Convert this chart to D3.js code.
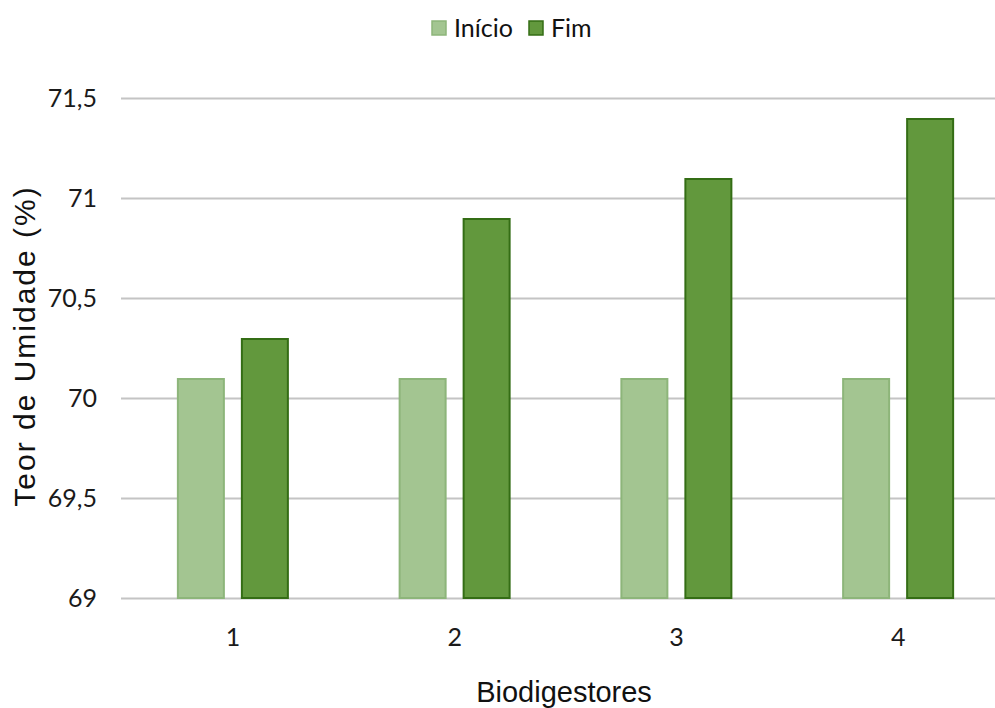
<!DOCTYPE html>
<html>
<head>
<meta charset="utf-8">
<script src="https://cdn.jsdelivr.net/npm/d3@7"></script>
<style>
  html, body { margin: 0; padding: 0; background: #fff; }
  svg { display: block; }
</style>
</head>
<body>
<svg id="chart" width="995" height="708"></svg>
<script>
// Moisture content per biodigester, at the start and at the end of the run
const categories = ["1", "2", "3", "4"];
const seriesNames = ["Início", "Fim"];
const inicioValues = [70.1, 70.1, 70.1, 70.1];
const fimValues = [70.3, 70.9, 71.1, 71.4];
const yTicks = [69, 69.5, 70, 70.5, 71, 71.5];

const svg = d3.select("#chart");
const W = 995, H = 708;
const plot = { left: 121, right: 1009, top: 98, bottom: 598 };

const colors = {
  "Início": { fill: "#a3c591", stroke: "#8db57a" },
  "Fim": { fill: "#62983d", stroke: "#346d15" }
};

const rows = categories.map((c, i) => ({
  cat: c,
  values: [
    { key: "Início", value: inicioValues[i] },
    { key: "Fim", value: fimValues[i] }
  ]
}));

const y = d3.scaleLinear().domain([69, 71.5]).range([plot.bottom, plot.top]);
const x0 = d3.scaleBand().domain(categories).range([plot.left + 1, plot.right]);
const bw = x0.bandwidth();
const x1 = d3.scaleBand().domain(seriesNames)
  .range([bw / 2 - 56, bw / 2 + 56]).paddingInner(0.25);

const fmt = d => String(d).replace(".", ",");
const labelFont = "Lato, 'Open Sans', sans-serif";
const titleFont = "'Liberation Sans', Arial, sans-serif";

// Gridlines
svg.append("g").selectAll("line")
  .data(yTicks).join("line")
  .attr("x1", plot.left).attr("x2", W)
  .attr("y1", d => Math.round(y(d)) + 0.5).attr("y2", d => Math.round(y(d)) + 0.5)
  .attr("stroke", "#c4c4c4").attr("stroke-width", 2);

// Bars
const groups = svg.append("g").selectAll("g")
  .data(rows).join("g")
  .attr("transform", d => `translate(${x0(d.cat)},0)`);

groups.selectAll("rect")
  .data(d => d.values).join("rect")
  .attr("x", d => x1(d.key) + 1)
  .attr("width", x1.bandwidth() - 2)
  .attr("y", d => y(d.value) + 1)
  .attr("height", d => y(69) - y(d.value) - 1)
  .attr("fill", d => colors[d.key].fill)
  .attr("stroke", d => colors[d.key].stroke)
  .attr("stroke-width", 2);

// Y axis labels
const yAxis = d3.axisLeft(y).tickValues(yTicks).tickFormat(fmt).tickSize(0).tickPadding(24);
const gy = svg.append("g").attr("transform", `translate(${plot.left},0)`).call(yAxis);
gy.select(".domain").remove();
gy.selectAll("text")
  .attr("font-family", labelFont).attr("font-size", 25).attr("fill", "#1a1a1a");

// X axis labels
const xAxis = d3.axisBottom(x0).tickSize(0).tickPadding(30);
const gx = svg.append("g").attr("transform", `translate(0,${plot.bottom})`).call(xAxis);
gx.select(".domain").remove();
gx.selectAll("text")
  .attr("font-family", labelFont).attr("font-size", 25).attr("fill", "#1a1a1a");

// Axis titles
svg.append("text")
  .attr("x", 564).attr("y", 702)
  .attr("text-anchor", "middle")
  .attr("font-family", titleFont).attr("font-size", 29).attr("fill", "#111")
  .text("Biodigestores");

svg.append("text")
  .attr("transform", "translate(35,346) rotate(-90)")
  .attr("text-anchor", "middle")
  .attr("font-family", titleFont).attr("font-size", 30)
  .attr("letter-spacing", 2).attr("fill", "#111")
  .text("Teor de Umidade (%)");

// Legend
const legend = svg.append("g");
const legendItems = [
  { key: "Início", x: 432 },
  { key: "Fim", x: 529 }
];
legendItems.forEach(it => {
  legend.append("rect")
    .attr("x", it.x).attr("y", 21).attr("width", 14).attr("height", 14)
    .attr("fill", colors[it.key].fill).attr("stroke", colors[it.key].stroke).attr("stroke-width", 1.5);
  legend.append("text")
    .attr("x", it.x + 22).attr("y", 37)
    .attr("font-family", labelFont).attr("font-size", 25).attr("fill", "#111")
    .text(it.key);
});
</script>
</body>
</html>
